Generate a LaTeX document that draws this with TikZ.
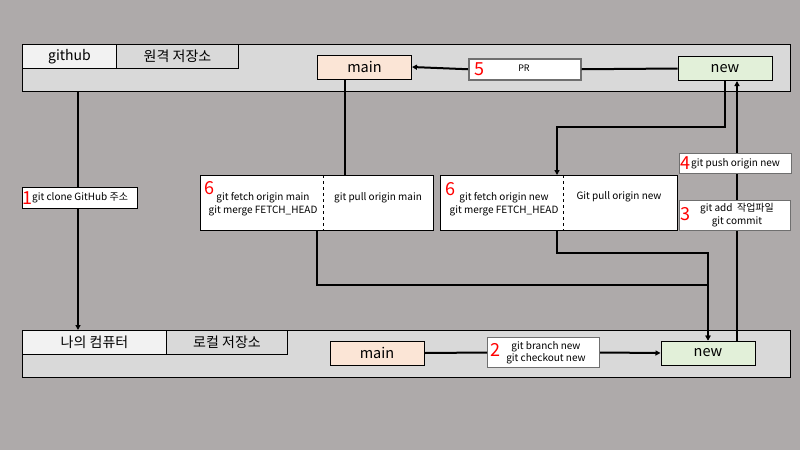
\documentclass[tikz,border=0pt]{standalone}
\usepackage{fontspec}
\setmainfont{Noto Sans CJK KR}
\usepackage{xcolor}
\usetikzlibrary{arrows.meta}
\definecolor{bggray}{HTML}{AEAAAA}
\definecolor{panelgray}{HTML}{D9D9D9}
\definecolor{tabwhite}{HTML}{F2F2F2}
\definecolor{mainfill}{HTML}{FBE5D6}
\definecolor{newfill}{HTML}{E2F0D9}
\definecolor{boxline}{HTML}{6F6F6F}

\tikzset{
  panel/.style={draw, fill=panelgray, line width=1pt, minimum width=768pt, minimum height=47pt, inner sep=0pt, anchor=north west},
  tab/.style={draw, line width=1pt, minimum height=24pt, inner sep=0pt, anchor=north west, font=\fontsize{14}{16}\selectfont},
  branch/.style={draw, line width=1pt, minimum width=94pt, minimum height=24pt, inner sep=0pt, font=\fontsize{14.5}{16}\selectfont},
  cmdbox/.style={draw, fill=white, line width=1pt, inner sep=0pt, anchor=north west},
  cmd/.style={font=\fontsize{10}{12.5}\selectfont, align=center, inner sep=0pt},
  num/.style={text=red, font=\fontsize{18}{18}\selectfont, inner sep=0pt},
  link/.style={line width=2pt},
  flow/.style={line width=2pt, -{Triangle[length=5pt,width=5pt]}},
}

\begin{document}
\begin{tikzpicture}[x=1pt, y=-1pt]
\fill[bggray] (0,0) rectangle (800,450);
\useasboundingbox (0,0) rectangle (800,450);

% remote
\node[panel] (remote) at (22,44) {};
\node[tab, fill=tabwhite, minimum width=94pt] (githubtab) at (22,44) {github};
\node[tab, fill=panelgray, minimum width=122pt] (remotetab) at (116,44) {원격 저장소};
\node[branch, fill=mainfill] (mainR) at (364.5,67) {main};
\node[branch, fill=newfill] (newR) at (725,68.5) {new};

% local
\node[panel] (local) at (22,330) {};
\node[tab, fill=tabwhite, minimum width=144pt] (mytab) at (22,330) {나의 컴퓨터};
\node[tab, fill=panelgray, minimum width=121pt] (localtab) at (166,330) {로컬 저장소};
\node[branch, fill=mainfill] (mainL) at (377,353) {main};
\node[branch, fill=newfill] (newL) at (708,353) {new};

\coordinate (clonex) at (78,0);
\coordinate (pushx) at (737,0);
\draw[flow] (remote.south -| clonex) -- (local.north -| clonex);
\draw[flow] (newL.north -| pushx) -- (newR.south -| pushx);

% 1
\node[cmdbox, minimum width=115pt, minimum height=21pt] (clone) at (22,187) {};
\node[num, anchor=west] at ([xshift=0.5pt]clone.west) {1};
\node[cmd, anchor=west] at ([xshift=10pt]clone.west) {git clone GitHub 주소};

% 2
\node[cmdbox, draw=boxline, minimum width=112pt, minimum height=30pt] (branchbox) at (487,337) {};
\node[num] at (495,350) {2};
\node[cmd] at (546,353) {git branch new\\git checkout new};
\draw[link] (mainL.east) -- (branchbox.west);
\draw[flow] (branchbox.east) -- (newL.west);

% 3, 4
\node[cmdbox, draw=boxline, minimum width=111pt, minimum height=30pt] (commit) at (679,200) {};
\node[num] at (685,214) {3};
\node[cmd, font=\fontsize{10}{13.5}\selectfont] at (737,215) {git add \ 작업파일\\git commit};
\node[cmdbox, draw=boxline, minimum width=112pt, minimum height=20pt] (push) at (679,153) {};
\node[num, anchor=west] at ([xshift=1pt]push.west) {4};
\node[cmd, anchor=west] at ([xshift=12pt]push.west) {git push origin new};

% 5
\node[cmdbox, draw=boxline, line width=1.5pt, minimum width=112pt, minimum height=21pt] (pr) at (468,58) {};
\node[num] at (479,69) {5};
\node[cmd, font=\fontsize{9}{11}\selectfont] at (524,68) {PR};
\draw[link] (newR.west) -- (pr.east);
\draw[flow] (pr.west) -- (mainR.east);

% 6
\node[cmdbox, minimum width=233pt, minimum height=55pt] (fetchL) at (200,175) {};
\node[num] at (209,188) {6};
\node[cmd] at (263,204) {git fetch origin main\\git merge FETCH\_HEAD};
\node[cmd] at (378,198) {git pull origin main};
\draw[dashed, line width=0.6pt] (fetchL.north -| 323,0) -- (fetchL.south -| 323,0);

\node[cmdbox, minimum width=237pt, minimum height=55pt] (fetchR) at (440,175) {};
\node[num] at (450,189) {6};
\node[cmd] at (504,204) {git fetch origin new\\git merge FETCH\_HEAD};
\node[cmd] at (619,197) {Git pull origin new};
\draw[dashed, line width=0.6pt] (fetchR.north -| 563,0) -- (fetchR.south -| 563,0);

\coordinate (pullmain) at (345,0);
\coordinate (pullnew) at (557,127);
\coordinate (mergeL) at (317,285);
\coordinate (mergeR) at (557,253);
\draw[link] (mainR.south -| pullmain) -- (fetchL.north -| pullmain);
\draw[flow] (newR.south) |- (pullnew) -- (fetchR.north -| pullnew);
\draw[flow] (fetchL.south -| mergeL) -- (mergeL) -| (newL.north);
\draw[flow] (fetchR.south -| mergeR) -- (mergeR) -| (newL.north);
\end{tikzpicture}
\end{document}
